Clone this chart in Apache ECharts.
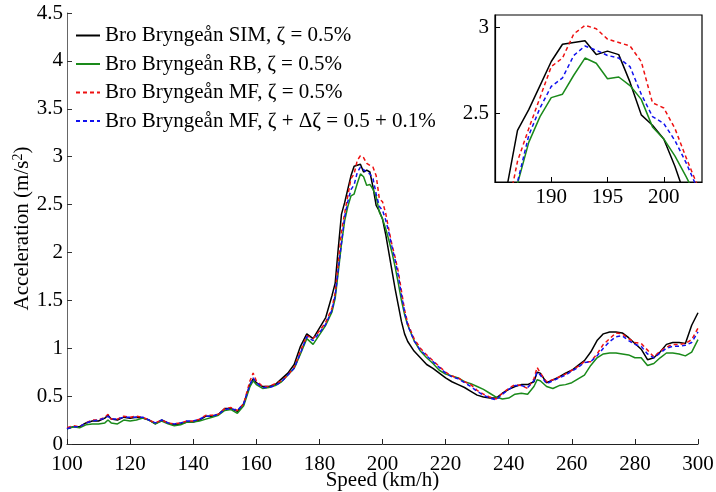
<!DOCTYPE html>
<html>
<head>
<meta charset="utf-8">
<script src="https://cdn.jsdelivr.net/npm/echarts@6/dist/echarts.min.js"></script>
<style>html,body{margin:0;padding:0;background:#fff}#c{width:716px;height:492px}</style>
</head>
<body>
<div id="c"></div>
<script>
const speeds = [100,102,104,106,108,110,112,113,114,116,118,120,122,124,126,128,130,132,134,136,138,140,142,144,146,148,150,152,154,156,158,159,160,162,164,166,168,170,172,174,176,178,180,182,184,185,186,187,188,189,190,191,192,193,194,195,196,197,198,199,200,201,202,203,204,205,206,207,208,210,212,214,216,218,220,222,224,226,228,230,232,234,236,238,240,242,244,246,248,249,250,252,254,256,258,260,262,264,266,268,270,272,274,276,278,280,282,284,286,288,290,292,294,296,298,300];

const simVals = [0.16,0.18,0.18,0.22,0.24,0.24,0.27,0.30,0.26,0.25,0.28,0.27,0.28,0.27,0.25,0.21,0.25,0.22,0.20,0.21,0.23,0.23,0.25,0.29,0.29,0.31,0.37,0.37,0.34,0.42,0.62,0.68,0.64,0.60,0.60,0.62,0.68,0.74,0.83,1.02,1.15,1.10,1.21,1.32,1.55,1.68,2.05,2.40,2.52,2.66,2.80,2.90,2.91,2.92,2.84,2.86,2.84,2.68,2.49,2.43,2.35,2.19,2.00,1.81,1.62,1.45,1.28,1.15,1.07,0.97,0.90,0.83,0.79,0.74,0.69,0.65,0.62,0.59,0.55,0.51,0.49,0.48,0.48,0.53,0.57,0.60,0.62,0.62,0.65,0.75,0.74,0.64,0.67,0.70,0.74,0.77,0.82,0.87,0.96,1.08,1.15,1.17,1.17,1.16,1.11,1.05,0.99,0.88,0.90,0.96,1.04,1.06,1.06,1.05,1.24,1.37];

const rbVals = [0.16,0.18,0.17,0.20,0.21,0.21,0.22,0.25,0.22,0.21,0.25,0.24,0.25,0.27,0.25,0.21,0.24,0.21,0.19,0.20,0.23,0.23,0.24,0.26,0.28,0.30,0.35,0.36,0.32,0.40,0.60,0.66,0.62,0.58,0.59,0.61,0.65,0.72,0.79,0.94,1.10,1.04,1.14,1.24,1.38,1.52,1.80,2.09,2.33,2.48,2.59,2.61,2.72,2.82,2.79,2.70,2.71,2.66,2.58,2.42,2.35,2.25,2.13,2.00,1.85,1.68,1.50,1.35,1.24,1.08,0.97,0.90,0.84,0.77,0.73,0.71,0.69,0.65,0.63,0.60,0.57,0.53,0.49,0.47,0.48,0.52,0.53,0.52,0.60,0.67,0.66,0.60,0.58,0.61,0.62,0.64,0.68,0.72,0.82,0.90,0.94,0.95,0.95,0.94,0.93,0.90,0.90,0.82,0.84,0.90,0.95,0.95,0.94,0.92,0.96,1.09];

const mfVals = [0.17,0.19,0.18,0.22,0.25,0.25,0.28,0.31,0.26,0.26,0.29,0.28,0.29,0.28,0.25,0.22,0.25,0.22,0.21,0.22,0.24,0.24,0.26,0.30,0.30,0.31,0.37,0.38,0.35,0.42,0.66,0.74,0.66,0.60,0.60,0.63,0.66,0.72,0.80,0.97,1.13,1.10,1.18,1.27,1.42,1.58,1.90,2.22,2.41,2.59,2.77,2.82,2.96,3.01,2.99,2.93,2.91,2.89,2.80,2.56,2.53,2.41,2.24,2.08,1.95,1.80,1.60,1.40,1.26,1.10,1.00,0.93,0.87,0.81,0.75,0.71,0.69,0.65,0.62,0.56,0.52,0.49,0.47,0.53,0.58,0.62,0.61,0.58,0.68,0.80,0.74,0.65,0.67,0.70,0.73,0.77,0.81,0.86,0.86,0.94,1.04,1.10,1.16,1.15,1.10,1.06,1.05,0.98,0.91,0.97,1.01,1.04,1.04,1.05,1.09,1.21];

const mfdVals = [0.16,0.18,0.18,0.22,0.24,0.25,0.27,0.29,0.26,0.26,0.28,0.28,0.28,0.28,0.25,0.22,0.25,0.22,0.21,0.22,0.24,0.24,0.26,0.29,0.29,0.31,0.36,0.37,0.35,0.42,0.62,0.69,0.64,0.59,0.59,0.61,0.65,0.72,0.79,0.95,1.12,1.08,1.16,1.25,1.40,1.55,1.83,2.10,2.37,2.53,2.655,2.705,2.835,2.89,2.865,2.835,2.82,2.77,2.61,2.48,2.44,2.34,2.21,2.06,1.92,1.76,1.56,1.38,1.24,1.08,0.98,0.92,0.86,0.80,0.74,0.70,0.68,0.64,0.60,0.55,0.51,0.48,0.46,0.52,0.57,0.61,0.61,0.59,0.66,0.75,0.72,0.63,0.66,0.69,0.72,0.76,0.80,0.85,0.86,0.92,1.00,1.07,1.12,1.13,1.08,1.04,1.02,0.94,0.90,0.95,1.00,1.02,1.02,1.03,1.06,1.17];

const seriesNames = [
  'Bro Bryngeån SIM, ζ = 0.5%',
  'Bro Bryngeån RB, ζ = 0.5%',
  'Bro Bryngeån MF, ζ = 0.5%',
  'Bro Bryngeån MF, ζ + Δζ = 0.5 + 0.1%'
];
const xTicksInset = [190,195,200];
const yTicksInset = [2.5,3];

const FONT = 'Liberation Serif';
const FS = 21;
const pairs = v => speeds.map((s,i)=>[s,v[i]]);
const styles = [
  {color:'#000000', dashed:false},
  {color:'#1a8a1a', dashed:false},
  {color:'#ee1111', dashed:true},
  {color:'#1111ee', dashed:true}
];
const vals = [simVals, rbVals, mfVals, mfdVals];

const series = [];
[0,1].forEach(g=>{
  vals.forEach((v,k)=>{
    series.push({
      type:'line', name: seriesNames[k], xAxisIndex:g, yAxisIndex:g,
      data: pairs(v), showSymbol:false, symbol:'none', clip:true, animation:false, z: 3,
      lineStyle:{color:styles[k].color, width:1.5, type: styles[k].dashed?[4,3]:'solid'},
      itemStyle:{color:styles[k].color}
    });
  });
});

const chart = echarts.init(document.getElementById('c'));
chart.setOption({
  backgroundColor:'#fff',
  animation:false,
  textStyle:{fontFamily:FONT},
  legend:{
    orient:'vertical', left:70, top:20, itemWidth:24, itemHeight:14, itemGap:7.5,
    itemStyle:{opacity:0},
    textStyle:{fontFamily:FONT, fontSize:FS, color:'#000'},
    data: seriesNames
  },
  grid:[
    {left:67, right:18, top:13, bottom:48, show:false, outerBoundsMode:'none', containLabel:false},
    {left:495, top:15, width:207, height:167, show:true, borderColor:'#000', borderWidth:1.2, backgroundColor:'#fff', outerBoundsMode:'none', containLabel:false}
  ],
  xAxis:[
    {type:'value', gridIndex:0, min:100, max:300, interval:20,
     name:'Speed (km/h)', nameLocation:'middle', nameGap:26, nameMoveOverlap:false,
     nameTextStyle:{fontFamily:FONT, fontSize:FS, color:'#000'},
     axisLine:{lineStyle:{color:'#222', width:1}}, axisTick:{inside:true, length:5, lineStyle:{color:'#222'}},
     axisLabel:{fontFamily:FONT, fontSize:FS, color:'#000', margin:10},
     splitLine:{show:false}},
    {type:'value', gridIndex:1, min:185, max:203.4,
     axisLine:{lineStyle:{color:'#000', width:1.2}},
     axisTick:{inside:true, length:5, customValues:xTicksInset, lineStyle:{color:'#000'}},
     axisLabel:{fontFamily:FONT, fontSize:FS, color:'#000', margin:5, customValues:xTicksInset},
     splitLine:{show:false}}
  ],
  yAxis:[
    {type:'value', gridIndex:0, min:0, max:4.5, interval:0.5,
     name:'Acceleration (m/s{sup|2})', nameLocation:'middle', nameGap:34, nameRotate:90, nameMoveOverlap:false,
     nameTextStyle:{fontFamily:FONT, fontSize:FS, color:'#000', rich:{sup:{fontFamily:FONT, fontSize:14, verticalAlign:'top', padding:[0,0,8,0]}}},
     axisLine:{show:true, lineStyle:{color:'#666', width:1}}, axisTick:{show:true, inside:true, length:5, lineStyle:{color:'#333'}},
     axisLabel:{fontFamily:FONT, fontSize:FS, color:'#000', margin:4},
     splitLine:{show:false}},
    {type:'value', gridIndex:1, min:2.1, max:3.07,
     axisLine:{show:true, lineStyle:{color:'#000', width:1.2}},
     axisTick:{show:true, inside:true, length:5, customValues:yTicksInset, lineStyle:{color:'#000'}},
     axisLabel:{fontFamily:FONT, fontSize:FS, color:'#000', margin:6, customValues:yTicksInset},
     splitLine:{show:false}}
  ],
  series: series
});
</script>
</body>
</html>
